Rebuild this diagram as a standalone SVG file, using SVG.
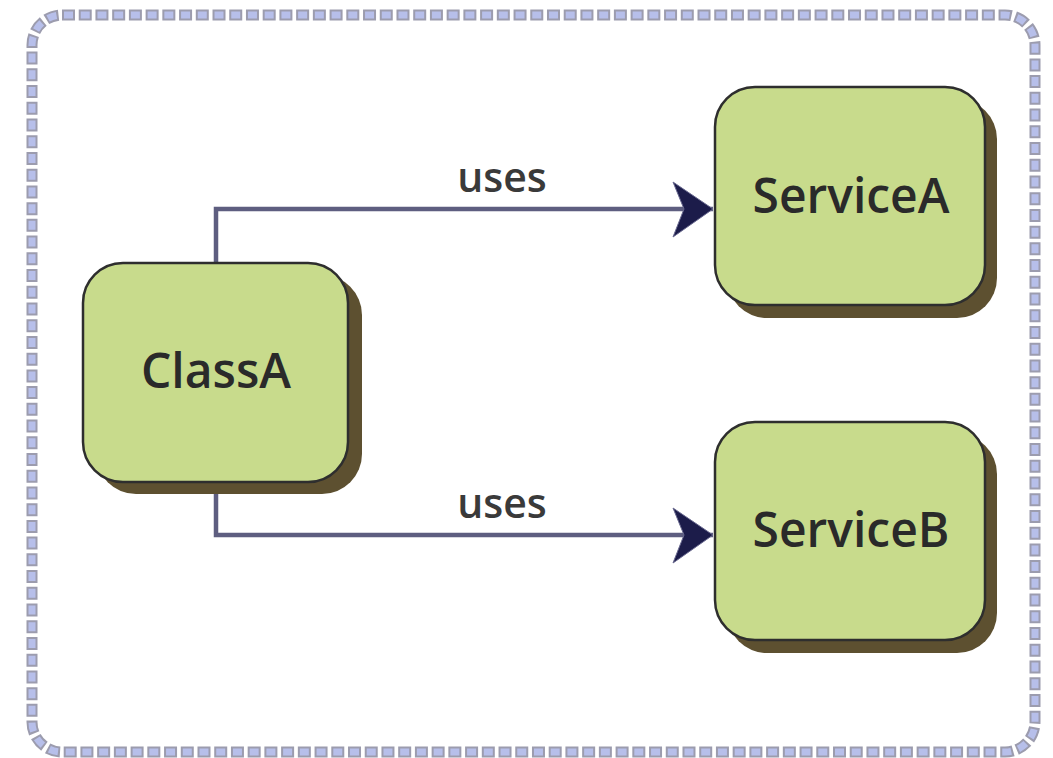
<svg xmlns="http://www.w3.org/2000/svg" width="1053" height="758" viewBox="0 0 1053 758">
<style>
.frame-o{fill:none;stroke:#9c9cae;stroke-width:11;stroke-dasharray:13 3.724}
.frame-i{fill:none;stroke:#b7bfea;stroke-width:7;stroke-dasharray:9 7.724;stroke-dashoffset:-2}
.shadow{fill:#5d5030}
.box{fill:#c8db8c;stroke:#2e2e2e;stroke-width:2.5}
.lbl{font-family:"Open Sans","Noto Sans",sans-serif;font-size:48px;font-weight:600;fill:#2a2a2a;text-anchor:middle}
.elbl{font-family:"Open Sans","Noto Sans",sans-serif;font-size:41px;font-weight:600;fill:#3a3a3a;text-anchor:middle}
.edge{fill:none;stroke:#5e5e80;stroke-width:4.5}
</style>
<defs>
<marker id="arr" markerUnits="userSpaceOnUse" markerWidth="44" markerHeight="58" viewBox="0 0 44 58" refX="41" refY="28" orient="auto">
<path d="M1,1 L41,28 L1,56 L12,28 Z" fill="#1c1c4a" stroke="#6a6a90" stroke-width="1"/>
</marker>
</defs>
<g id="frame">
<rect class="frame-o" x="32" y="15" width="1003" height="737" rx="30"/>
<rect class="frame-i" x="32" y="15" width="1003" height="737" rx="30"/>
</g>
<g id="connectors">
<path class="edge" d="M216,263 L216,209 L713,209" marker-end="url(#arr)"/>
<path class="edge" d="M216,482 L216,535 L713,535" marker-end="url(#arr)"/>
<text class="elbl" x="502" y="192">uses</text>
<text class="elbl" x="502" y="518">uses</text>
</g>
<g id="ClassA">
<rect class="shadow" x="96" y="275" width="266" height="219" rx="40"/>
<rect class="box" x="83" y="263" width="265" height="219" rx="40"/>
<text class="lbl" x="216" y="388">ClassA</text>
</g>
<g id="ServiceA">
<rect class="shadow" x="727" y="99" width="270" height="219" rx="40"/>
<rect class="box" x="715" y="87" width="270" height="218" rx="40"/>
<text class="lbl" x="851" y="213">ServiceA</text>
</g>
<g id="ServiceB">
<rect class="shadow" x="727" y="434" width="270" height="219" rx="40"/>
<rect class="box" x="715" y="422" width="270" height="218" rx="40"/>
<text class="lbl" x="851" y="547">ServiceB</text>
</g>
</svg>
